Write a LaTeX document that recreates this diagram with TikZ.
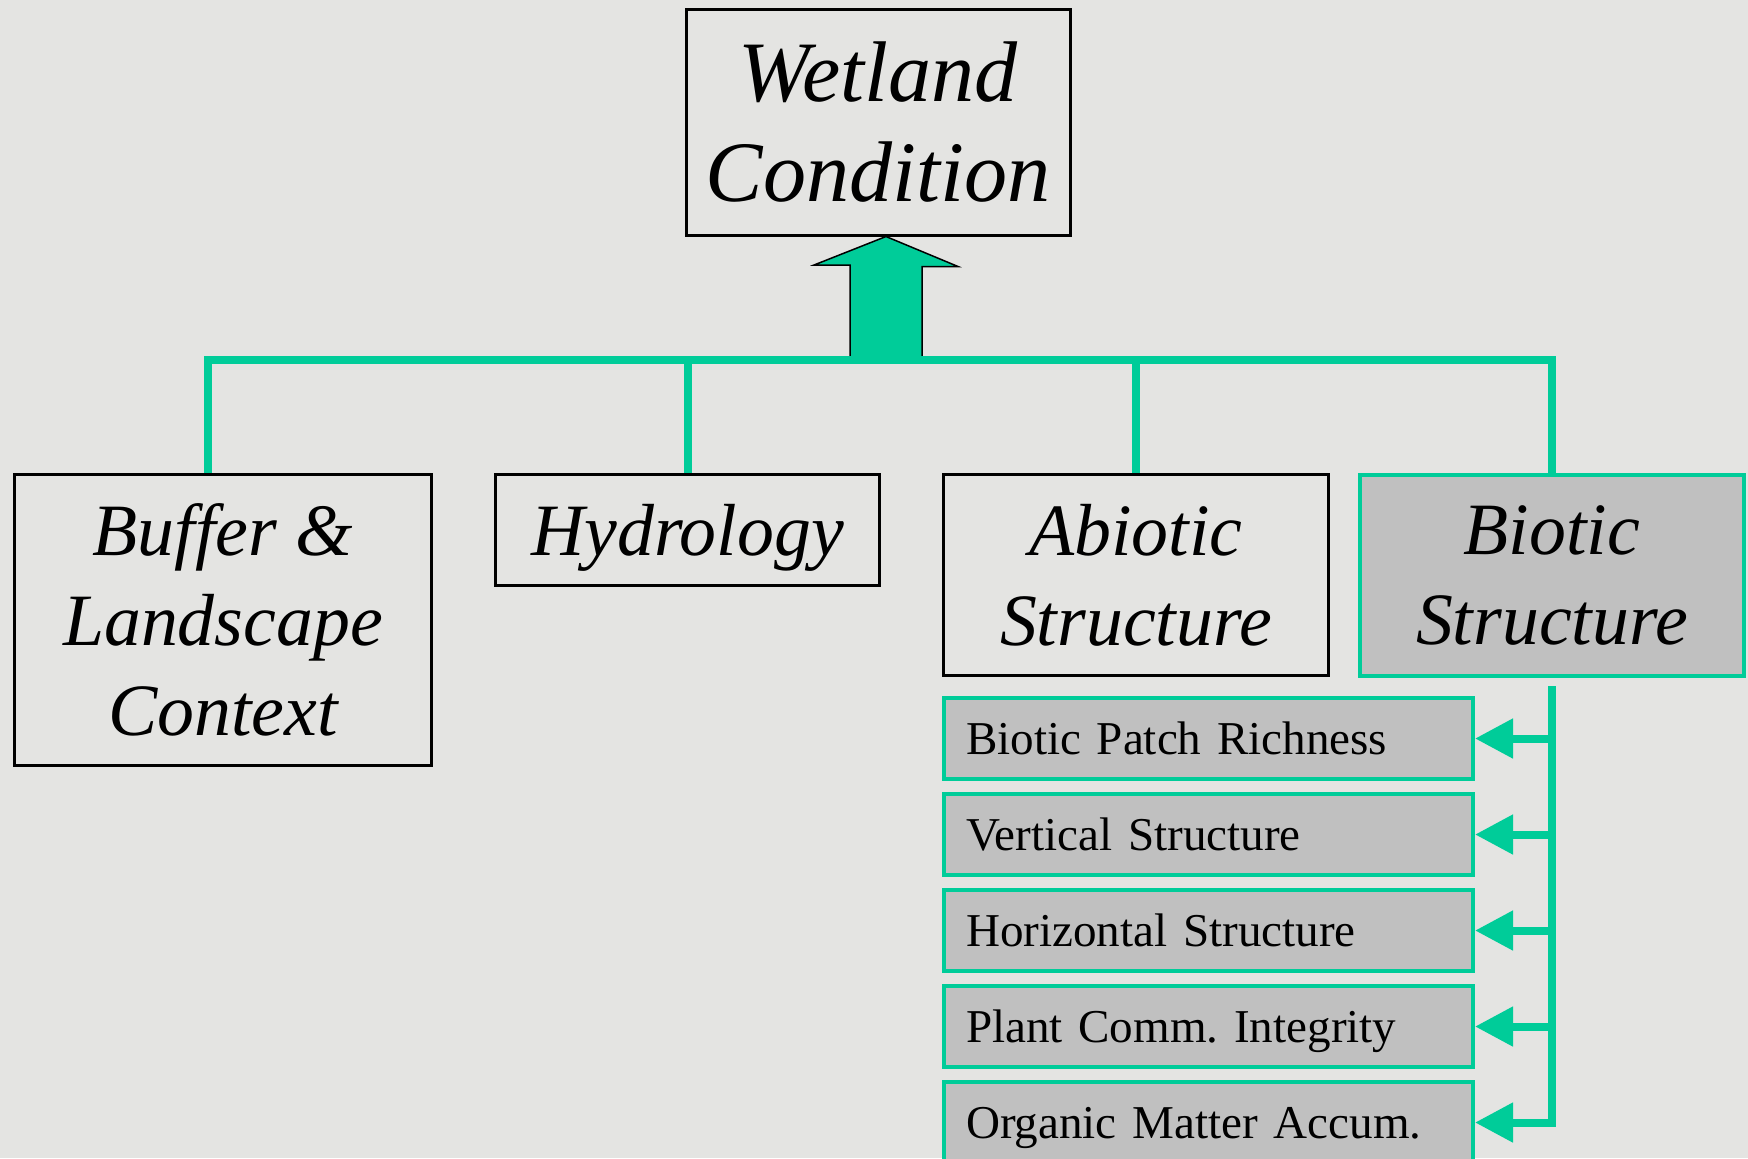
\documentclass[tikz,border=0pt]{standalone}
\usepackage{fontspec}
\setmainfont{Liberation Serif}
\usetikzlibrary{arrows.meta}

\definecolor{sea}{RGB}{0,204,153}
\definecolor{paper}{RGB}{228,228,226}
\definecolor{panel}{RGB}{192,192,192}

\begin{document}
\frenchspacing
\begin{tikzpicture}[
  x=0.1mm, y=-0.1mm,
  topbox/.style={draw, line width=0.3mm, inner sep=0pt, align=center,
    font=\fontsize{24.5}{28.7}\selectfont\itshape},
  catbox/.style={draw, line width=0.3mm, inner sep=0pt, align=center, anchor=north west,
    font=\fontsize{21}{25.6}\selectfont\itshape},
  subbox/.style={draw=sea, fill=panel, line width=0.4mm, anchor=north west,
    text width=48.5mm, inner xsep=2.2mm, inner ysep=0pt, minimum height=8.1mm,
    text depth=0pt, align=left, font=\fontsize{13.4}{16}\selectfont},
  link/.style={draw=sea, line width=0.8mm},
  feed/.style={link, -{Triangle[length=3.8mm, width=3.8mm]}},
  bigarrow/.style={fill=sea, draw=black, line width=0.15mm},
]

\useasboundingbox (0,0) rectangle (1748,1158);
\fill [paper] (0,0) rectangle (1748,1158);

% top
\node [topbox, minimum width=38.4mm, minimum height=22.6mm] (wet) at (878,122) {Wetland\\Condition};
\coordinate (hub) at (886,360);

% second level
\node [catbox, minimum width=41.7mm, minimum height=29.1mm] (buf) at (13,473) {Buffer \&\\Landscape\\Context};
\node [catbox, minimum width=38.4mm, minimum height=11.1mm, text depth=0pt] (hyd) at (494,473) {Hydrology};
\node [catbox, minimum width=38.5mm, minimum height=20.1mm] (abi) at (942,473) {Abiotic\\Structure};
\node [catbox, draw=sea, fill=panel, line width=0.4mm, minimum width=38.4mm, minimum height=20.1mm] (bio) at (1358,473) {Biotic\\Structure};

% metrics
\node [subbox] (s1) at (942,696) {Biotic Patch Richness};
\node [subbox] (s2) at (942,792) {Vertical Structure};
\node [subbox] (s3) at (942,888) {Horizontal Structure};
\node [subbox] (s4) at (942,984) {Plant Comm. Integrity};
\node [subbox] (s5) at (942,1080) {Organic Matter Accum.};

\draw [bigarrow] (hub) ++(-36,0) -- ++(0,-95) -- ++(-36,0) -- (hub |- wet.south)
  -- ++(72,30) -- ++(-36,0) -- ++(0,95) -- cycle;

\draw [link] ([xshift=-1.5mm]buf.north) |- (bio.north |- hub) -- (bio.north);
\draw [link] (hyd.north) -- (hyd.north |- hub);
\draw [link] (abi.north) -- (abi.north |- hub);

\draw [feed] ([yshift=-0.8mm]bio.south) |- (s5.east);
\draw [feed] (bio.south |- s1.east) -- (s1.east);
\draw [feed] (bio.south |- s2.east) -- (s2.east);
\draw [feed] (bio.south |- s3.east) -- (s3.east);
\draw [feed] (bio.south |- s4.east) -- (s4.east);

\end{tikzpicture}
\end{document}
